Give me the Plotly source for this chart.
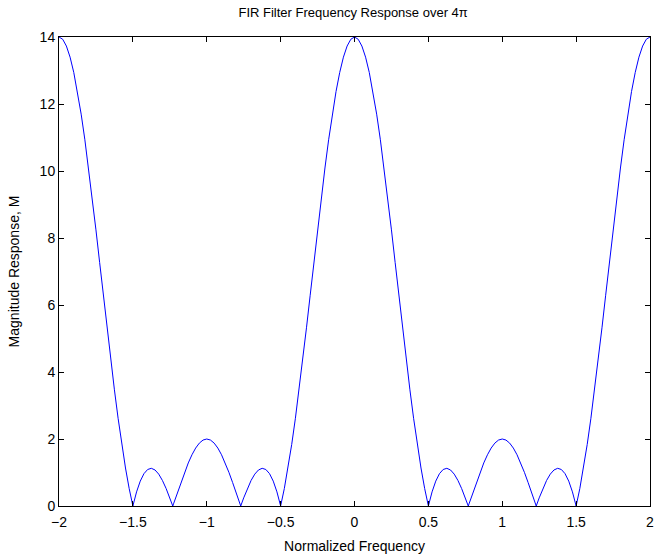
import plotly.graph_objects as go

# Normalized frequency (units of pi) and magnitude response
freq = [
    -2, -1.975, -1.95, -1.925, -1.9, -1.875, -1.85, -1.825, -1.8, -1.775,
    -1.75, -1.725, -1.7, -1.675, -1.65, -1.625, -1.6, -1.575, -1.55, -1.525,
    -1.5, -1.475, -1.45, -1.425, -1.4, -1.375, -1.35, -1.325, -1.3, -1.275,
    -1.25, -1.23, -1.225, -1.2, -1.175, -1.15, -1.125, -1.1, -1.075, -1.05,
    -1.025, -1, -0.975, -0.95, -0.925, -0.9, -0.875, -0.85, -0.825, -0.8,
    -0.775, -0.77, -0.75, -0.725, -0.7, -0.675, -0.65, -0.625, -0.6, -0.575,
    -0.55, -0.525, -0.5, -0.475, -0.45, -0.425, -0.4, -0.375, -0.35, -0.325,
    -0.3, -0.275, -0.25, -0.225, -0.2, -0.175, -0.15, -0.125, -0.1, -0.075,
    -0.05, -0.025, 0,
    0.025, 0.05, 0.075, 0.1, 0.125, 0.15, 0.175, 0.2, 0.225, 0.25,
    0.275, 0.3, 0.325, 0.35, 0.375, 0.4, 0.425, 0.45, 0.475, 0.5,
    0.525, 0.55, 0.575, 0.6, 0.625, 0.65, 0.675, 0.7, 0.725, 0.75,
    0.77, 0.775, 0.8, 0.825, 0.85, 0.875, 0.9, 0.925, 0.95, 0.975,
    1, 1.025, 1.05, 1.075, 1.1, 1.125, 1.15, 1.175, 1.2, 1.225,
    1.23, 1.25, 1.275, 1.3, 1.325, 1.35, 1.375, 1.4, 1.425, 1.45,
    1.475, 1.5, 1.525, 1.55, 1.575, 1.6, 1.625, 1.65, 1.675, 1.7,
    1.725, 1.75, 1.775, 1.8, 1.825, 1.85, 1.875, 1.9, 1.925, 1.95,
    1.975, 2,
]

magnitude = [
    14, 13.932, 13.730, 13.398, 12.942, 12.372, 11.697, 10.932, 10.090, 9.188,
    8.243, 7.271, 6.291, 5.319, 4.373, 3.468, 2.618, 1.837, 1.134, 0.520,
    0, 0.422, 0.743, 0.965, 1.090, 1.125, 1.075, 0.951, 0.763, 0.522,
    0.243, 0, 0.063, 0.382, 0.700, 1.005, 1.285, 1.530, 1.730, 1.878,
    1.969, 2.000, 1.969, 1.878, 1.730, 1.530, 1.285, 1.005, 0.700, 0.382,
    0.063, 0, 0.243, 0.522, 0.763, 0.951, 1.075, 1.125, 1.090, 0.965,
    0.743, 0.422, 0, 0.520, 1.134, 1.837, 2.618, 3.468, 4.373, 5.319,
    6.291, 7.271, 8.243, 9.188, 10.090, 10.932, 11.697, 12.372, 12.942, 13.398,
    13.730, 13.932, 14,
    13.932, 13.730, 13.398, 12.942, 12.372, 11.697, 10.932, 10.090, 9.188, 8.243,
    7.271, 6.291, 5.319, 4.373, 3.468, 2.618, 1.837, 1.134, 0.520, 0,
    0.422, 0.743, 0.965, 1.090, 1.125, 1.075, 0.951, 0.763, 0.522, 0.243,
    0, 0.063, 0.382, 0.700, 1.005, 1.285, 1.530, 1.730, 1.878, 1.969,
    2.000, 1.969, 1.878, 1.730, 1.530, 1.285, 1.005, 0.700, 0.382, 0.063,
    0, 0.243, 0.522, 0.763, 0.951, 1.075, 1.125, 1.090, 0.965, 0.743,
    0.422, 0, 0.520, 1.134, 1.837, 2.618, 3.468, 4.373, 5.319, 6.291,
    7.271, 8.243, 9.188, 10.090, 10.932, 11.697, 12.372, 12.942, 13.398, 13.730,
    13.932, 14,
]

x_ticks = [-2, -1.5, -1, -0.5, 0, 0.5, 1, 1.5, 2]
x_tick_labels = ["\u22122", "\u22121.5", "\u22121", "\u22120.5", "0", "0.5", "1", "1.5", "2"]
y_ticks = [0, 2, 4, 6, 8, 10, 12, 14]

font_family = "Liberation Sans, Arial, sans-serif"

fig = go.Figure()
fig.add_trace(go.Scatter(
    x=freq, y=magnitude, mode="lines",
    line=dict(color="rgb(0,0,255)", width=1),
    showlegend=False, hoverinfo="skip",
))

axis_common = dict(
    showgrid=False, zeroline=False,
    showline=True, linecolor="black", linewidth=1, mirror="allticks",
    ticks="inside", ticklen=5, tickwidth=1, tickcolor="black",
    tickfont=dict(family=font_family, size=14, color="black"),
    ticklabeloverflow="allow",
)

fig.update_layout(
    width=657, height=558,
    margin=dict(l=59, r=3, t=37, b=52),
    paper_bgcolor="white", plot_bgcolor="white",
    font=dict(family=font_family, color="black"),
    title=dict(
        text="FIR Filter Frequency Response over 4\u03c0",
        font=dict(family=font_family, size=13, color="black"),
        x=0.5375, xanchor="center", y=1 - 12 / 558, yanchor="middle",
    ),
    xaxis=dict(
        range=[-2, 2], tickvals=x_ticks, ticktext=x_tick_labels,
        ticklabelstandoff=3,
        title=dict(text="Normalized Frequency", font=dict(family=font_family, size=14), standoff=12),
        **axis_common,
    ),
    yaxis=dict(
        range=[0, 14], tickvals=y_ticks,
        title=dict(text="Magnitude Response, M", font=dict(family=font_family, size=14), standoff=16),
        **axis_common,
    ),
)

fig.write_html("out.html")
